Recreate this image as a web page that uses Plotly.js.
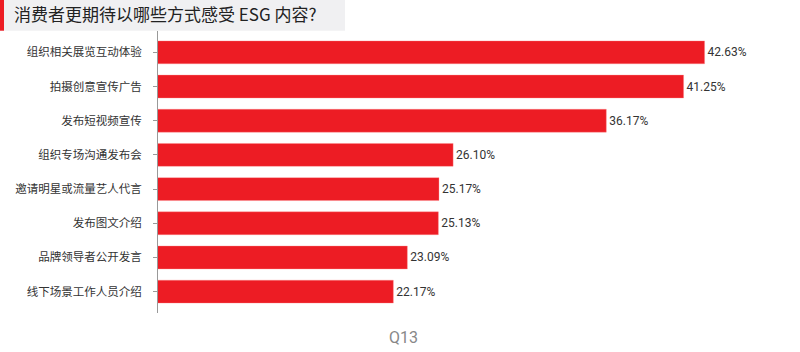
<!DOCTYPE html>
<html>
<head>
<meta charset="utf-8">
<script src="https://cdn.plot.ly/plotly-3.0.1.min.js"></script>
<style>html,body{margin:0;padding:0;background:#fff;}#chart{width:800px;height:352px;}</style>
</head>
<body>
<div id="chart"></div>
<script>
const categories = ["组织相关展览互动体验","拍摄创意宣传广告","发布短视频宣传","组织专场沟通发布会","邀请明星或流量艺人代言","发布图文介绍","品牌领导者公开发言","线下场景工作人员介绍"];
const values = [42.63, 41.25, 36.17, 26.10, 25.17, 25.13, 23.09, 22.17];
const titleText = "消费者更期待以哪些方式感受 ESG 内容?";
const footText = "Q13";

const L = 158, R = 10, T = 31, B = 39, W = 800, H = 352;
const pw = W - L - R, ph = H - T - B;
const px = x => (x - L) / pw;
const py = y => 1 - (y - T) / ph;

const trace = {
  type: 'bar', orientation: 'h',
  y: categories, x: values,
  base: 0,
  marker: {color: '#ED1C24', line: {color: 'rgba(255,140,140,0.6)', width: 0.6}},
  width: 0.67,
  text: values.map(v => v.toFixed(2) + '%'),
  textposition: 'outside',
  constraintext: 'none',
  cliponaxis: false,
  textfont: {family: 'Roboto, sans-serif', size: 12, color: '#333'},
  hoverinfo: 'skip'
};

const layout = {
  width: W, height: H,
  margin: {l: L, r: R, t: T, b: B, pad: 0},
  paper_bgcolor: '#fff', plot_bgcolor: '#fff',
  showlegend: false,
  font: {family: '"Noto Sans CJK SC", sans-serif', color: '#333'},
  title: {
    text: titleText,
    font: {family: '"Noto Sans CJK SC", sans-serif', size: 17, color: '#222'},
    x: 14 / W, xanchor: 'left', xref: 'container',
    y: 1 - 15.5 / H, yanchor: 'middle', yref: 'container'
  },
  xaxis: {
    range: [6.7, (W - R - 56.2) / 15.21],
    visible: false, fixedrange: true
  },
  yaxis: {
    type: 'category',
    range: [7.625, -0.625],
    showline: true, linecolor: '#999', linewidth: 1,
    ticks: 'outside', ticklen: 4, tickcolor: '#999', tickwidth: 1,
    ticklabelstandoff: 9,
    showgrid: false, zeroline: false,
    tickfont: {family: '"Noto Sans CJK SC", sans-serif', size: 11.5, color: '#333'},
    fixedrange: true
  },
  shapes: [
    {type: 'rect', xref: 'paper', yref: 'paper', x0: px(0), x1: px(345), y0: py(30.7), y1: py(0), fillcolor: '#F0F0F2', line: {width: 0}, layer: 'below'},
    {type: 'rect', xref: 'paper', yref: 'paper', x0: px(0), x1: px(4), y0: py(30.7), y1: py(0), fillcolor: '#ED1C24', line: {width: 0}, layer: 'below'}
  ],
  annotations: [
    {text: footText, xref: 'paper', yref: 'paper', x: px(403), y: py(337), xanchor: 'center', yanchor: 'middle', showarrow: false,
     font: {family: 'Roboto, sans-serif', size: 16, color: '#888'}}
  ]
};

Plotly.newPlot('chart', [trace], layout, {displayModeBar: false, staticPlot: true});
</script>
</body>
</html>
